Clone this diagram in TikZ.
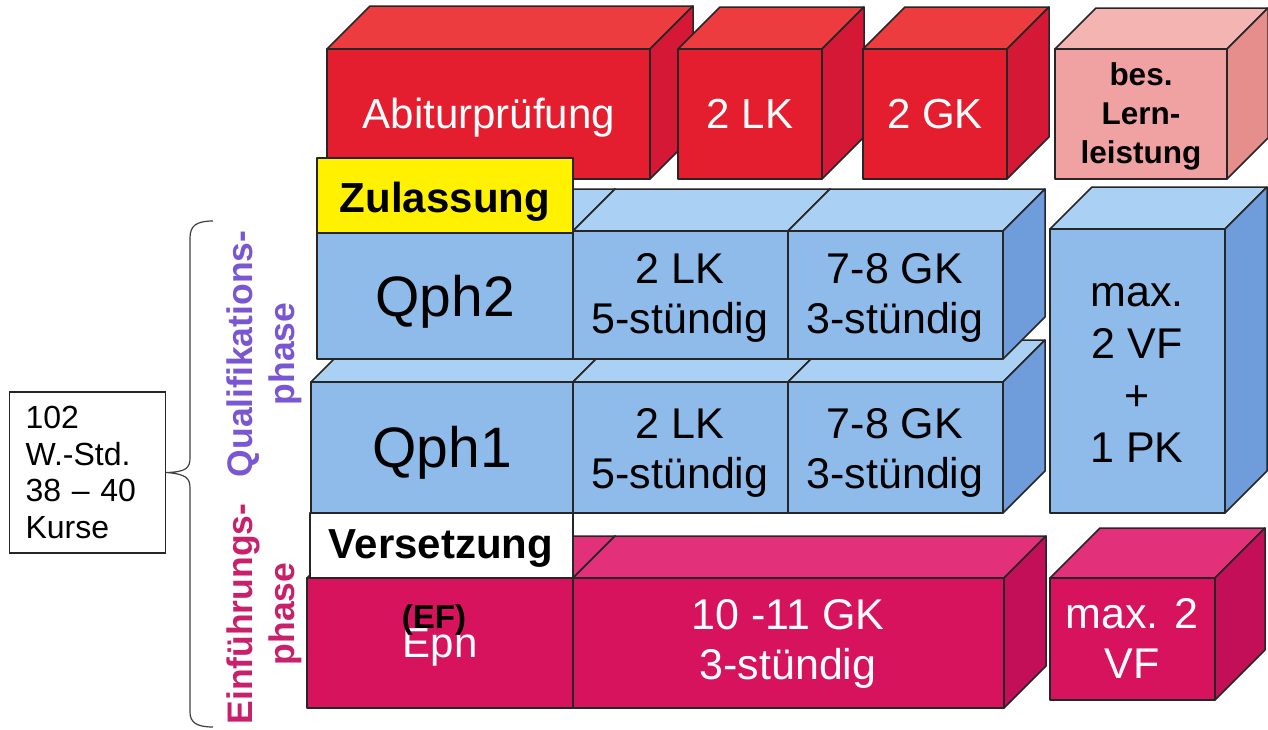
\documentclass[tikz,border=0pt]{standalone}
\usepackage{fontspec}
\setmainfont{Liberation Sans}
\definecolor{redF}{HTML}{E41E2E}
\definecolor{redT}{HTML}{EC3C3F}
\definecolor{redS}{HTML}{D41836}
\definecolor{rosF}{HTML}{EFA2A1}
\definecolor{rosT}{HTML}{F3B4B2}
\definecolor{rosS}{HTML}{E68E8C}
\definecolor{bluF}{HTML}{8FBBEA}
\definecolor{bluT}{HTML}{AAD0F3}
\definecolor{bluS}{HTML}{6F9CDA}
\definecolor{magF}{HTML}{D7135E}
\definecolor{magT}{HTML}{E3307A}
\definecolor{magS}{HTML}{C20F58}
\definecolor{zulY}{HTML}{FFF100}
\definecolor{txtMag}{HTML}{C8206A}
\definecolor{txtPur}{HTML}{7A56D2}
\newcommand{\fsz}[2]{\fontsize{#1}{#2}\selectfont}
% x1, y1 (top of front), x2, y2 (bottom of front), depth, colour set
\newcommand{\cuboid}[6]{%
  \filldraw[face,fill=#6T] (#1,#2) -- (#1+#5,#2-#5) -- (#3+#5,#2-#5) -- (#3,#2) -- cycle;
  \filldraw[face,fill=#6S] (#3,#2) -- (#3+#5,#2-#5) -- (#3+#5,#4-#5) -- (#3,#4) -- cycle;
  \filldraw[face,fill=#6F] (#1,#2) rectangle (#3,#4);
}
\tikzset{
  face/.style={draw=black!85, line width=1.5pt, line join=round},
  lbl/.style={inner sep=0pt, anchor=base, align=center},
  rotlbl/.style={inner sep=0pt, anchor=base, align=center, rotate=90,
    font=\bfseries\fsz{35.5}{42}},
  brace line/.style={draw=black!75, line width=1.2pt},
}
\begin{document}
\begin{tikzpicture}[x=1pt,y=-1pt]
\fill[white] (0,0) rectangle (1268,729);
\useasboundingbox (0,0) rectangle (1268,729);

% ---- top row (Abitur)
\cuboid{327}{49}{650}{179}{43}{red}
\cuboid{678}{49}{822}{179}{42}{red}
\cuboid{863}{49}{1007}{179}{42}{red}
\cuboid{1055}{49}{1227}{179}{41}{ros}

% ---- bottom row (Einfuehrungsphase)
\cuboid{307}{578}{573}{708}{42}{mag}
\cuboid{573}{578}{1004}{708}{42}{mag}
\cuboid{1050}{578}{1215}{700}{50}{mag}

% ---- Qph1 row
\cuboid{311}{382}{573}{513}{42}{blu}
\cuboid{573}{382}{788}{513}{42}{blu}
\cuboid{788}{382}{1003}{513}{42}{blu}
\filldraw[face,fill=white] (310,513) rectangle (573,578);

% ---- Qph2 row
\cuboid{317}{231}{573}{359}{42}{blu}
\cuboid{573}{231}{788}{359}{42}{blu}
\cuboid{788}{231}{1003}{359}{42}{blu}
\cuboid{1050}{229}{1225}{513}{42}{blu}
\filldraw[face,fill=zulY] (317,158) rectangle (573,233);

% ---- labels in boxes
\node[lbl, text=white, font=\fsz{42}{48}] (abi) at (489,128) {Abiturprüfung};
\node[lbl, text=white, font=\fsz{42}{48}] (lk2) at (750,128) {2 LK};
\node[lbl, text=white, font=\fsz{42}{48}] (gk2) at (935,128) {2 GK};
\node[lbl, font=\bfseries\fsz{31.5}{39}] (bes) at (1141,163) {bes.\\Lern-\\leistung};
\node[lbl, font=\bfseries\fsz{42}{48}] (zul) at (445,212) {Zulassung};
\node[lbl, font=\fsz{57}{60}] (qph2) at (445,316) {Qph2};
\node[lbl, font=\fsz{43}{50}] (q2lk) at (680,333) {2 LK\\5-stündig};
\node[lbl, font=\fsz{43}{50}] (q2gk) at (895,333) {7-8 GK\\3-stündig};
\node[lbl, font=\fsz{43}{51.7}] (vf) at (1137,462) {max.\\2 VF\\+\\1 PK};
\node[lbl, font=\fsz{57}{60}] (qph1) at (442,467) {Qph1};
\node[lbl, font=\fsz{43}{50}] (q1lk) at (680,488) {2 LK\\5-stündig};
\node[lbl, font=\fsz{43}{50}] (q1gk) at (895,488) {7-8 GK\\3-stündig};
\node[lbl, font=\bfseries\fsz{42}{48}] (vers) at (441,558) {Versetzung};
\node[lbl, text=white, font=\fsz{42}{48}] (epn) at (440,657) {Epn};
\node[lbl, font=\bfseries\fsz{33}{40}] (ef) at (434,628) {(EF)};
\node[lbl, text=white, font=\fsz{43}{50}] (egk) at (788,679) {10 -11 GK\\3-stündig};
\node[lbl, text=white, font=\fsz{43}{50}] (evf) at (1132,678) {max. 2\\VF};

% ---- left annotation
\node[draw=black!85, line width=1.2pt, anchor=west, align=left, inner xsep=16pt,
      inner ysep=0pt, minimum height=161pt, text width=124pt, font=\fsz{32}{36.5}]
      (info) at (9,472.5) {102\\W.-Std.\\38 \textendash{} 40\\Kurse};
\coordinate (brtip) at (info.east);
\draw[brace line] (213,221) .. controls (196,221) and (190,226) .. (190,238)
  -- (190,458) .. controls (190,468) and (186,472) .. (brtip)
  .. controls (186,474) and (190,478) .. (190,488)
  -- (190,712) .. controls (190,722) and (196,727) .. (213,727);

\node[rotlbl, text=txtMag] (einf) at (294,614) {Einführungs-\\phase};
\node[rotlbl, text=txtPur] (qual) at (294,354) {Qualifikations-\\phase};
\end{tikzpicture}
\end{document}
